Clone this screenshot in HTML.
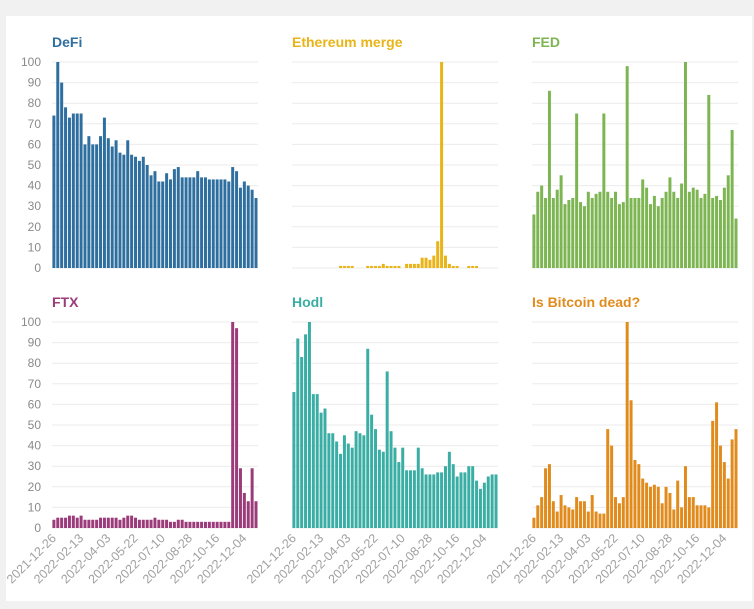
<!DOCTYPE html>
<html><head><meta charset="utf-8">
<style>
html,body{margin:0;padding:0;background:#f1f1f1;}
body{width:754px;height:609px;overflow:hidden;position:relative;font-family:"Liberation Sans",sans-serif;}
#card{position:absolute;left:6px;top:16px;width:746px;height:585px;background:#fff;}
svg{position:absolute;left:0;top:0;}
</style></head>
<body>
<div id="card"></div>
<svg id="chart" width="754" height="609"></svg>
<script>
const weeks = 53;
const xTickLabels = ["2021-12-26","2022-02-13","2022-04-03","2022-05-22","2022-07-10","2022-08-28","2022-10-16","2022-12-04"];
const yTicks = [0,10,20,30,40,50,60,70,80,90,100];
const titles = ["DeFi","Ethereum merge","FED","FTX","Hodl","Is Bitcoin dead?"];
const colors = ["#2f6f9f","#e8b418","#7db553","#9b3b79","#3aaea4","#e18b1d"];
const defi = [74,100,90,78,73,75,75,75,60,64,60,60,64,73,63,59,62,56,55,62,55,54,52,54,50,45,47,42,42,46,43,48,49,44,44,44,44,47,44,44,43,43,43,43,43,42,49,47,39,42,40,38,34];
const eth = [0,0,0,0,0,0,0,0,0,0,0,0,1,1,1,1,0,0,0,1,1,1,1,2,1,1,1,1,0,2,2,2,2,5,5,4,6,13,100,6,2,1,1,0,0,1,1,1,0,0,0,0,0];
const fed = [26,37,40,34,86,34,38,45,31,33,34,75,32,30,37,34,36,37,75,37,34,37,31,32,98,34,34,34,43,39,31,35,30,34,37,44,37,34,41,100,37,39,38,34,36,84,34,35,33,39,45,67,24];
const ftx = [4,5,5,5,6,6,5,6,4,4,4,4,5,5,5,5,5,4,5,6,6,5,4,4,4,4,5,4,4,4,3,3,4,4,3,3,3,3,3,3,3,3,3,3,3,3,100,97,29,17,13,29,13];
const hodl = [66,92,83,94,100,65,65,56,58,46,46,42,36,45,41,39,47,46,45,87,55,48,38,37,76,47,39,32,39,28,28,28,39,29,26,26,26,27,27,30,37,31,25,27,27,30,30,23,19,22,25,26,26];
const btc = [5,11,15,29,31,13,8,16,11,10,9,15,13,13,8,16,8,7,7,48,40,15,12,15,100,62,33,31,24,22,20,21,20,12,20,17,9,23,10,30,15,15,11,11,11,10,52,61,40,32,24,43,48];
const series = [defi,eth,fed,ftx,hodl,btc];

const svg = document.getElementById('chart');
const NS = 'http://www.w3.org/2000/svg';
const colX = [52,292,532], panelW = 206;
const rowBase = [268,528], rowH = 206;
function mk(tag, attrs){const e=document.createElementNS(NS,tag);for(const k in attrs)e.setAttribute(k,attrs[k]);svg.appendChild(e);return e;}
function xScale(col,i){return colX[col] + i*panelW/weeks;}
function yScale(row,v){return rowBase[row] - v*rowH/100;}

for(let p=0;p<6;p++){
  const row=Math.floor(p/3), col=p%3;
  yTicks.forEach(t=>{
    const g=mk('line',{x1:colX[col],x2:colX[col]+panelW,y1:yScale(row,t),y2:yScale(row,t),stroke:'#ebebeb','stroke-width':1});
    
    
    if(col===0){
      const tl=mk('text',{x:41,y:yScale(row,t)+4,'text-anchor':'end','font-size':12,fill:'#8a8a8a'});
      tl.textContent=t;
      
      
    }
  });
  const tt=mk('text',{x:colX[col],y:row===0?47:307,'font-size':14,'font-weight':'bold',fill:colors[p]});
  tt.textContent=titles[p];
  
  
  const bw=panelW/weeks;
  series[p].forEach((v,i)=>{
    if(v<=0) return;
    const b=mk('rect',{x:xScale(col,i)+0.4,y:yScale(row,v),width:bw-0.9,height:rowBase[row]-yScale(row,v),fill:colors[p]});
    
    
  });
  if(row===1){
    xTickLabels.forEach((lab,k)=>{
      const x=xScale(col,k*7)+bw/2+3, y=539;
      const tl=mk('text',{x:x,y:y,'text-anchor':'end','font-size':12.5,fill:'#a0a0a0',transform:`rotate(-45 ${x} ${y})`});
      tl.textContent=lab;
      
      
    });
  }
}
</script>
</body></html>
